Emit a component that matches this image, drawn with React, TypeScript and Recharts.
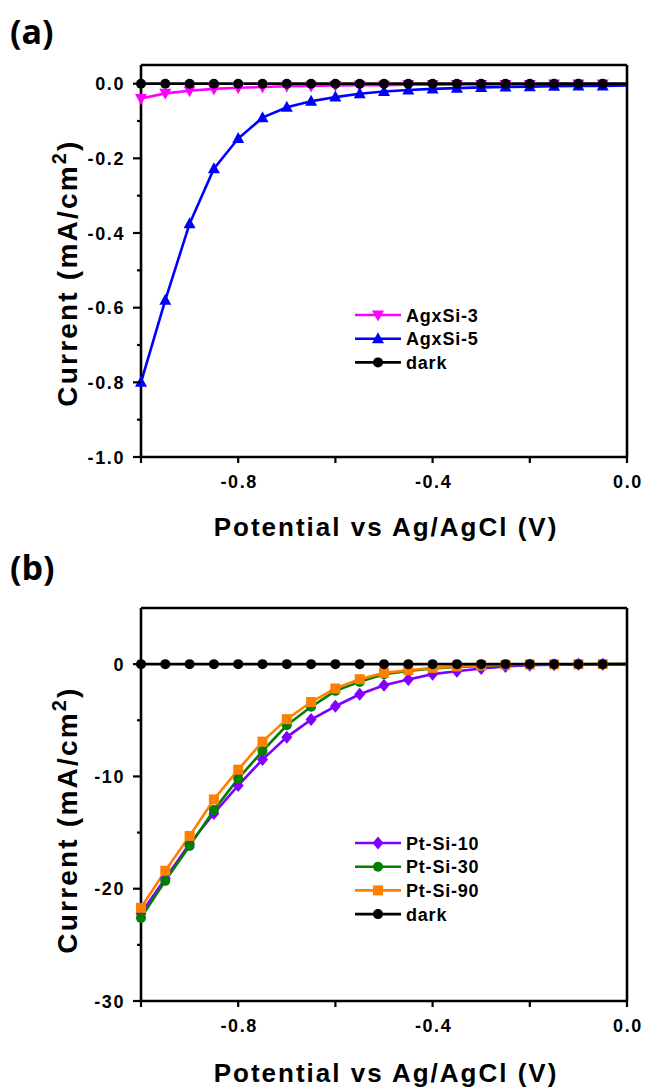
import { LineChart, Line, XAxis, YAxis, Legend } from 'recharts';

const POTENTIAL = [
  -1.0, -0.95, -0.9, -0.85, -0.8, -0.75, -0.7, -0.65, -0.6, -0.55, -0.5,
  -0.45, -0.4, -0.35, -0.3, -0.25, -0.2, -0.15, -0.1, -0.05, 0.0,
];

// panel (a), mA/cm2
const AGXSI_3 = [
  -0.04, -0.026, -0.019, -0.014, -0.011, -0.009, -0.007, -0.006, -0.005, -0.004, -0.004,
  -0.003, -0.003, -0.002, -0.002, -0.002, -0.002, -0.001, -0.001, -0.001, -0.001,
];
const AGXSI_5 = [
  -0.8, -0.58, -0.375, -0.228, -0.147, -0.091, -0.063, -0.047, -0.036, -0.027, -0.021,
  -0.017, -0.014, -0.012, -0.01, -0.009, -0.008, -0.007, -0.006, -0.006, -0.005,
];
const DARK_A = [
  0, 0, 0, 0, 0, 0, 0, 0, 0, 0, 0, 0, 0, 0, 0, 0, 0, 0, 0, 0, 0,
];

// panel (b), mA/cm2
const PT_SI_10 = [
  -22.2, -19.1, -16.0, -13.3, -10.8, -8.5, -6.5, -4.94, -3.75, -2.68, -1.88,
  -1.37, -0.89, -0.63, -0.39, -0.2, -0.1, -0.05, -0.02, -0.01, 0,
];
const PT_SI_30 = [
  -22.6, -19.3, -16.2, -13.0, -10.2, -7.74, -5.45, -3.8, -2.38, -1.58, -0.9,
  -0.6, -0.39, -0.25, -0.15, -0.08, -0.04, -0.02, -0.01, 0, 0,
];
const PT_SI_90 = [
  -21.7, -18.4, -15.3, -12.05, -9.4, -6.9, -4.9, -3.37, -2.17, -1.34, -0.78,
  -0.54, -0.33, -0.2, -0.12, -0.06, -0.03, -0.02, -0.01, 0, 0,
];
const DARK_B = [
  0, 0, 0, 0, 0, 0, 0, 0, 0, 0, 0, 0, 0, 0, 0, 0, 0, 0, 0, 0, 0,
];

const X_TICKS = [-1.0, -0.8, -0.6, -0.4, -0.2, 0.0];
const X_LABELS = ['-0.8', '-0.4', '0.0'];
const Y_TICKS_A = [-1.0, -0.9, -0.8, -0.7, -0.6, -0.5, -0.4, -0.3, -0.2, -0.1, 0.0];
const Y_LABELS_A = ['-1.0', '-0.8', '-0.6', '-0.4', '-0.2', '0.0'];
const Y_TICKS_B = [-30, -25, -20, -15, -10, -5, 0];
const Y_LABELS_B = ['-30', '-20', '-10', '0'];

const FONT = '"Liberation Sans", Arial, sans-serif';
const AXIS = { stroke: '#000', strokeWidth: 2.6 };

type Shape = 'circle' | 'square' | 'diamond' | 'up' | 'down';

interface Series {
  key: string;
  name: string;
  color: string;
  shape: Shape;
}

const SERIES_A: Series[] = [
  { key: 'a3', name: 'AgxSi-3', color: '#ff00ff', shape: 'down' },
  { key: 'a5', name: 'AgxSi-5', color: '#0000ff', shape: 'up' },
  { key: 'dark', name: 'dark', color: '#000000', shape: 'circle' },
];

const SERIES_B: Series[] = [
  { key: 'p10', name: 'Pt-Si-10', color: '#8000ff', shape: 'diamond' },
  { key: 'p30', name: 'Pt-Si-30', color: '#008000', shape: 'circle' },
  { key: 'p90', name: 'Pt-Si-90', color: '#ff8000', shape: 'square' },
  { key: 'dark', name: 'dark', color: '#000000', shape: 'circle' },
];

const dataA = POTENTIAL.map((x, i) => ({ x, a3: AGXSI_3[i], a5: AGXSI_5[i], dark: DARK_A[i] }));
const dataB = POTENTIAL.map((x, i) => ({
  x,
  p10: PT_SI_10[i],
  p30: PT_SI_30[i],
  p90: PT_SI_90[i],
  dark: DARK_B[i],
}));

function Marker({ shape, cx, cy, color }: { shape: Shape; cx: number; cy: number; color: string }) {
  if (shape === 'circle') return <circle cx={cx} cy={cy} r={5} fill={color} />;
  if (shape === 'square') return <rect x={cx - 5} y={cy - 5} width={10} height={10} fill={color} />;
  if (shape === 'diamond')
    return <polygon points={`${cx},${cy - 6.5} ${cx + 5.5},${cy} ${cx},${cy + 6.5} ${cx - 5.5},${cy}`} fill={color} />;
  if (shape === 'up')
    return <polygon points={`${cx},${cy - 6.5} ${cx + 6},${cy + 4.5} ${cx - 6},${cy + 4.5}`} fill={color} />;
  return <polygon points={`${cx},${cy + 6.5} ${cx + 6},${cy - 4.5} ${cx - 6},${cy - 4.5}`} fill={color} />;
}

const makeDot = (s: Series) => (p: any) => {
  // no symbol on the last point (0 V), the line just runs to the frame
  if (p.index === POTENTIAL.length - 1 || p.cx == null) return <g key={`d-${s.key}-${p.index}`} />;
  return <Marker key={`d-${s.key}-${p.index}`} shape={s.shape} cx={p.cx} cy={p.cy} color={s.color} />;
};

const XTick = (props: any) => {
  const { x, y, payload } = props;
  const v = Number(payload.value);
  const label = v.toFixed(1) === '-0.0' ? '0.0' : v.toFixed(1);
  return (
    <g>
      <line x1={x} y1={y} x2={x} y2={y + 6} stroke="#000" strokeWidth={2.2} />
      {X_LABELS.includes(label) && (
        <text x={x + 1} y={y + 31} textAnchor="middle" fontFamily={FONT} fontWeight="bold" fontSize={18} letterSpacing={1.6} fill="#000">
          {label}
        </text>
      )}
    </g>
  );
};

const makeYTick = (labels: string[], digits: number) => (props: any) => {
  const { x, y, payload } = props;
  const v = Number(payload.value);
  let label = v.toFixed(digits);
  if (label === '-0.0' || label === '-0') label = label.slice(1);
  const major = labels.includes(label);
  return (
    <g>
      <line x1={x - (major ? 8 : 4)} y1={y} x2={x} y2={y} stroke="#000" strokeWidth={2.2} />
      {major && (
        <text x={x - 16} y={y + 6.5} textAnchor="end" fontFamily={FONT} fontWeight="bold" fontSize={18} letterSpacing={1.6} fill="#000">
          {label}
        </text>
      )}
    </g>
  );
};

const xTitle = (y: number) => () =>
  (
    <text x={386} y={y} textAnchor="middle" fontFamily={FONT} fontWeight="bold" fontSize={26} letterSpacing={2} fill="#000">
      Potential vs Ag/AgCl (V)
    </text>
  );

const yTitle = (cy: number) => () =>
  (
    <text
      transform={`translate(77, ${cy}) rotate(-90)`}
      textAnchor="middle"
      fontFamily={FONT}
      fontWeight="bold"
      fontSize={28}
      letterSpacing={2.2}
      fill="#000"
    >
      Current (mA/cm
      <tspan dy={-11} fontSize={20}>2</tspan>
      <tspan dy={11}>)</tspan>
    </text>
  );

const makeLegend = (series: Series[]) => () =>
  (
    <svg width={180} height={series.length * 23.7 + 4} style={{ display: 'block' }}>
      {series.map((s, i) => {
        const cy = 12 + i * 23.7;
        return (
          <g key={s.key}>
            <line x1={5} y1={cy} x2={51} y2={cy} stroke={s.color} strokeWidth={2.6} />
            <Marker shape={s.shape} cx={28} cy={cy} color={s.color} />
            <text x={56} y={cy + 6.5} fontFamily={FONT} fontWeight="bold" fontSize={18} letterSpacing={0.8} fill="#000">
              {s.name}
            </text>
          </g>
        );
      })}
    </svg>
  );

function Panel({
  data,
  series,
  yDomain,
  yTicks,
  yLabels,
  digits,
  top,
  xAxisHeight,
  legendTop,
  titleY,
  titleCy,
}: {
  data: any[];
  series: Series[];
  yDomain: [number, number];
  yTicks: number[];
  yLabels: string[];
  digits: number;
  top: number;
  xAxisHeight: number;
  legendTop: number;
  titleY: number;
  titleCy: number;
}) {
  return (
    <LineChart width={645} height={545} data={data} margin={{ top: top - 1, right: 17, left: 0, bottom: 0 }}>
      <XAxis
        xAxisId="main"
        dataKey="x"
        type="number"
        domain={[-1, 0]}
        ticks={X_TICKS}
        interval={0}
        tick={<XTick />}
        tickLine={false}
        tickSize={0}
        tickMargin={0}
        axisLine={AXIS}
        height={xAxisHeight}
        label={{ content: xTitle(titleY) }}
      />
      <XAxis xAxisId="top" orientation="top" type="number" domain={[-1, 0]} tick={false} tickLine={false} axisLine={AXIS} height={1} />
      <YAxis
        yAxisId="main"
        type="number"
        domain={yDomain}
        ticks={yTicks}
        interval={0}
        tick={makeYTick(yLabels, digits)}
        tickLine={false}
        tickSize={0}
        tickMargin={0}
        axisLine={AXIS}
        width={141}
        label={{ content: yTitle(titleCy) }}
      />
      <YAxis yAxisId="right" orientation="right" type="number" domain={yDomain} tick={false} tickLine={false} axisLine={AXIS} width={1} />
      {series.map((s) => (
        <Line
          key={s.key}
          xAxisId="main"
          yAxisId="main"
          dataKey={s.key}
          name={s.name}
          stroke={s.color}
          strokeWidth={2.6}
          dot={makeDot(s)}
          activeDot={false}
          isAnimationActive={false}
          type="linear"
        />
      ))}
      <Legend
        layout="horizontal"
        verticalAlign="middle"
        align="center"
        content={makeLegend(series)}
        wrapperStyle={{ position: 'absolute', left: 350, top: legendTop, width: 180, height: 'auto' }}
      />
    </LineChart>
  );
}

export default function App() {
  const panelLabel = { position: 'absolute' as const, left: 10, fontFamily: '"Open Sans", sans-serif', fontWeight: 700, fontSize: 34, lineHeight: '34px', color: '#000' };
  return (
    <div style={{ position: 'absolute', left: 0, top: 0, width: 645, height: 1090, background: '#fff' }}>
      <div style={{ ...panelLabel, top: 14 }}>(a)</div>
      <div style={{ ...panelLabel, top: 550 }}>(b)</div>
      <div style={{ position: 'absolute', left: 0, top: 0 }}>
        <Panel
          data={dataA}
          series={SERIES_A}
          yDomain={[-1, 0.05]}
          yTicks={Y_TICKS_A}
          yLabels={Y_LABELS_A}
          digits={1}
          top={65}
          xAxisHeight={88}
          legendTop={303}
          titleY={536}
          titleCy={273}
        />
      </div>
      <div style={{ position: 'absolute', left: 0, top: 545 }}>
        <Panel
          data={dataB}
          series={SERIES_B}
          yDomain={[-30, 5]}
          yTicks={Y_TICKS_B}
          yLabels={Y_LABELS_B}
          digits={0}
          top={63}
          xAxisHeight={89}
          legendTop={286}
          titleY={537}
          titleCy={275}
        />
      </div>
    </div>
  );
}
